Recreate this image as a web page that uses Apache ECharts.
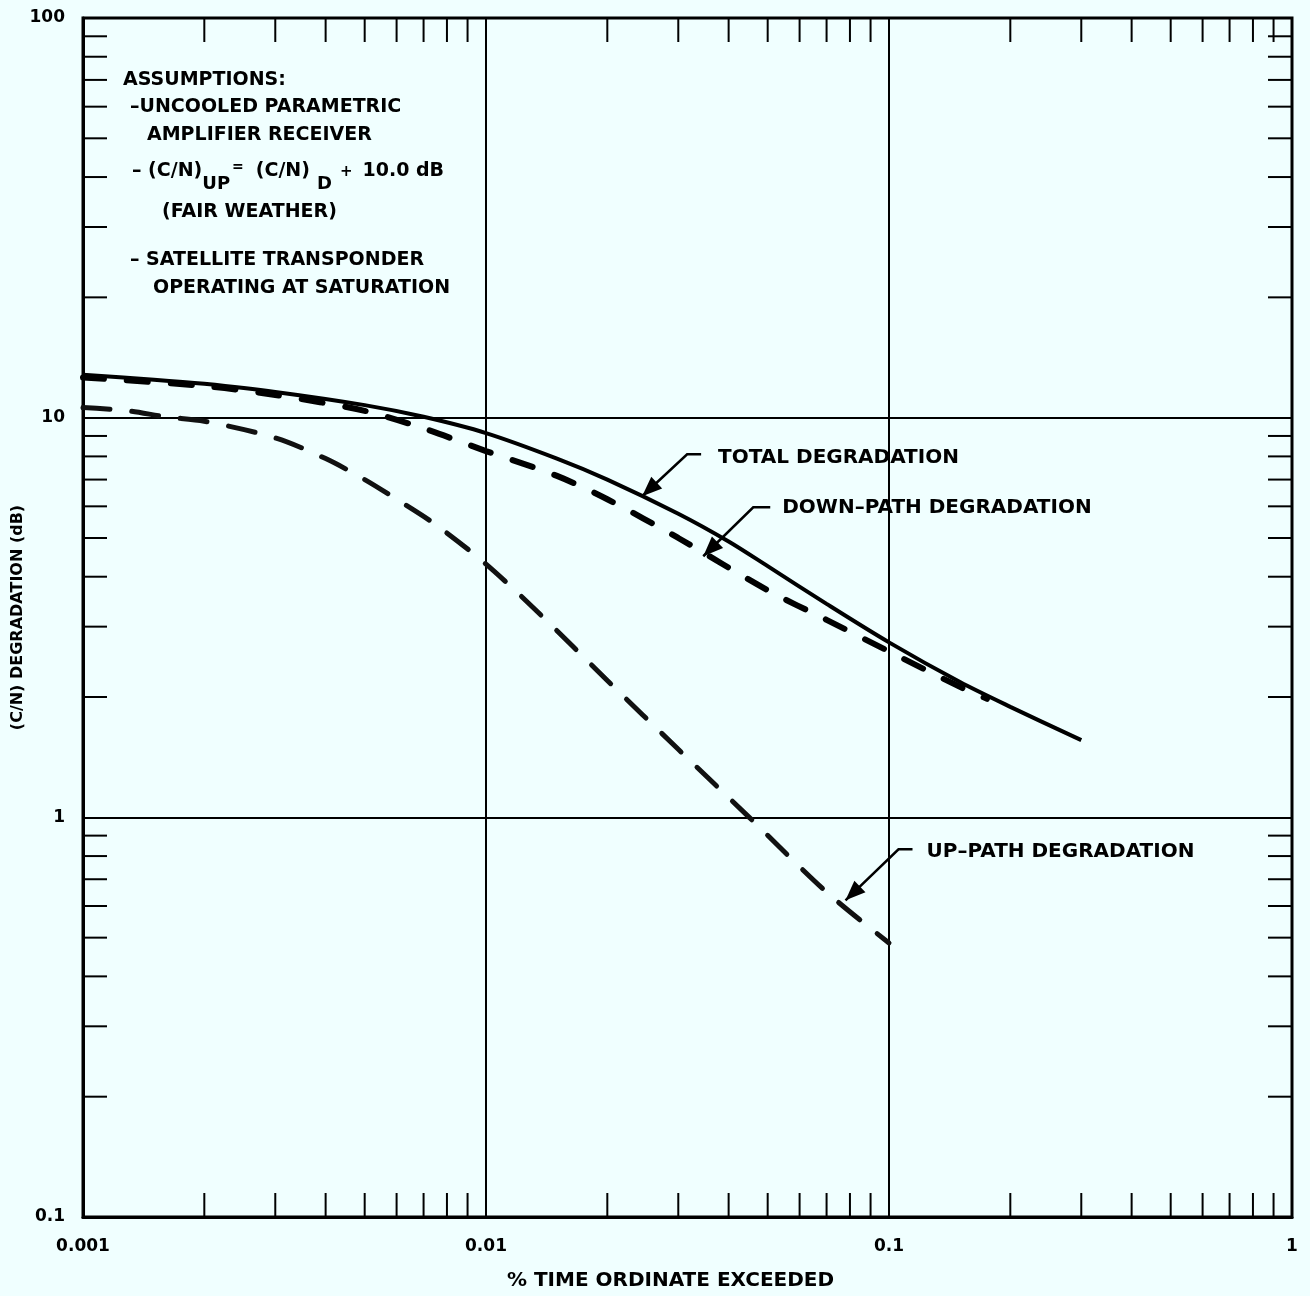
<!DOCTYPE html>
<html><head><meta charset="utf-8">
<script src="https://cdn.jsdelivr.net/npm/echarts@6/dist/echarts.min.js"></script>
<style>html,body{margin:0;padding:0;background:#F0FFFF;}#c{width:1310px;height:1296px;}</style>
</head><body><div id="c"></div>
<script>
// ---- data ----
const xTickLabels = ['0.001', '0.01', '0.1', '1'];
const yTickLabels = ['0.1', '1', '10', '100'];
const xDecades = [0.001, 0.01, 0.1];
const yDecades = [0.1, 1, 10];
const minorMultiples = [2, 3, 4, 5, 6, 7, 8, 9];

const totalX = [0.001, 0.0015, 0.002, 0.003, 0.005, 0.007, 0.01, 0.015, 0.02, 0.03, 0.04, 0.05, 0.07, 0.1, 0.15, 0.2, 0.3];
const totalY = [12.8, 12.45, 12.15, 11.6, 10.75, 10.05, 9.15, 7.9, 7.0, 5.75, 4.9, 4.25, 3.42, 2.74, 2.18, 1.89, 1.56];

const downX = [0.001, 0.002, 0.003, 0.005, 0.007, 0.01, 0.015, 0.02, 0.03, 0.05, 0.07, 0.1, 0.15, 0.175];
const downY = [12.6, 12.0, 11.4, 10.4, 9.4, 8.25, 7.15, 6.25, 5.0, 3.7, 3.12, 2.6, 2.12, 1.98];

const upX = [0.001, 0.0013, 0.0016, 0.002, 0.003, 0.004, 0.005, 0.006, 0.0075, 0.01, 0.0135, 0.02, 0.03, 0.045, 0.07, 0.1];
const upY = [10.6, 10.4, 10.05, 9.8, 8.9, 7.9, 7.0, 6.25, 5.4, 4.3, 3.25, 2.2, 1.48, 1.0, 0.65, 0.485];

const curveLabels = ['TOTAL DEGRADATION', 'DOWN\u2013PATH DEGRADATION', 'UP\u2013PATH DEGRADATION'];
const arrowTips = [[0.0244, 6.36], [0.0346, 4.5], [0.078, 0.62]];

const assumptionLines = ['ASSUMPTIONS:', '\u2013UNCOOLED PARAMETRIC', 'AMPLIFIER RECEIVER', '(FAIR WEATHER)', '\u2013 SATELLITE TRANSPONDER', 'OPERATING AT SATURATION'];
const equationParts = ['\u2013 (C/N)', 'UP', '=', '(C/N)', 'D', '+', '10.0 dB'];

const xTitle = '% TIME ORDINATE EXCEEDED';
const yTitle = '(C/N) DEGRADATION (dB)';

// ---- chart ----
const FONT = '"DejaVu Sans", sans-serif';
const zip = (xs, ys) => xs.map((x, i) => [x, ys[i]]);
const chart = echarts.init(document.getElementById('c'), null, {renderer: 'canvas'});

const option = {
  backgroundColor: '#F0FFFF',
  animation: false,
  grid: {left: 83, right: 18, top: 18, bottom: 79, show: true, borderColor: '#000', borderWidth: 3,
         backgroundColor: 'transparent', containLabel: false, outerBoundsMode: 'none'},
  xAxis: {
    type: 'log', logBase: 10, min: 0.001, max: 1,
    name: xTitle, nameLocation: 'middle', nameGap: 54, nameMoveOverlap: false,
    nameTextStyle: {fontFamily: FONT, fontWeight: 'bold', fontSize: 20, color: '#000', padding: [0, 34, 0, 0]},
    axisLine: {show: true, lineStyle: {color: '#000', width: 3}},
    axisTick: {show: false},
    splitLine: {show: true, lineStyle: {color: '#000', width: 2}},
    axisLabel: {
      fontFamily: FONT, fontWeight: 'bold', fontSize: 17, color: '#000', margin: 21,
      formatter: v => xTickLabels[Math.round(Math.log10(v)) + 3]
    }
  },
  yAxis: {
    type: 'log', logBase: 10, min: 0.1, max: 100,
    name: yTitle, nameLocation: 'middle', nameGap: 57, nameMoveOverlap: false,
    nameTextStyle: {fontFamily: FONT, fontWeight: 'bold', fontSize: 16, color: '#000'},
    axisLine: {show: true, lineStyle: {color: '#000', width: 3}},
    axisTick: {show: false},
    splitLine: {show: true, lineStyle: {color: '#000', width: 2}},
    axisLabel: {
      fontFamily: FONT, fontWeight: 'bold', fontSize: 17, color: '#000', margin: 18,
      formatter: v => yTickLabels[Math.round(Math.log10(v)) + 1]
    }
  },
  series: [
    {name: 'Total', type: 'line', data: zip(totalX, totalY), smooth: 0.3, showSymbol: false,
     lineStyle: {color: '#000', width: 4}},
    {name: 'Down', type: 'line', data: zip(downX, downY), smooth: 0.3, showSymbol: false,
     lineStyle: {color: '#000', width: 6, type: [21, 23], cap: 'round'}},
    {name: 'Up', type: 'line', data: zip(upX, upY), smooth: 0.3, showSymbol: false,
     lineStyle: {color: '#111', width: 5, type: [27, 22], cap: 'round'}}
  ]
};
chart.setOption(option);

// ---- overlay graphics from the chart's own scales ----
const px = (x, y) => chart.convertToPixel({gridIndex: 0}, [x, y]);
const [gl, gb] = px(0.001, 0.1);
const [gr, gt] = px(1, 100);
const TL = 24;
const g = [];
const tickStyle = {stroke: '#000', lineWidth: 2};
xDecades.forEach(d => minorMultiples.forEach(m => {
  const x = px(d * m, 1)[0];
  g.push({type: 'line', shape: {x1: x, y1: gb, x2: x, y2: gb - TL}, style: tickStyle, z: 50});
  g.push({type: 'line', shape: {x1: x, y1: gt, x2: x, y2: gt + TL}, style: tickStyle, z: 50});
}));
yDecades.forEach(d => minorMultiples.forEach(m => {
  const y = px(0.01, d * m)[1];
  g.push({type: 'line', shape: {x1: gl, y1: y, x2: gl + TL, y2: y}, style: tickStyle, z: 50});
  g.push({type: 'line', shape: {x1: gr, y1: y, x2: gr - TL, y2: y}, style: tickStyle, z: 50});
}));

// annotation leaders: offsets (px) from the arrow tip: elbow, end, text start
const leaders = [
  {elbow: [45, -42], end: [59, -42], text: [76, -38]},
  {elbow: [50, -49], end: [67, -49], text: [79, -48]},
  {elbow: [53, -51], end: [67, -51], text: [81, -49]}
];
arrowTips.forEach((t, i) => {
  const [tx, ty] = px(t[0], t[1]);
  const L = leaders[i];
  const ex = tx + L.elbow[0], ey = ty + L.elbow[1];
  g.push({type: 'polyline', shape: {points: [[tx, ty], [ex, ey], [tx + L.end[0], ty + L.end[1]]]},
          style: {stroke: '#000', lineWidth: 2.5, fill: null}, z: 60});
  const dx = tx - ex, dy = ty - ey, len = Math.hypot(dx, dy);
  const ux = dx / len, uy = dy / len;
  const hl = 20, hw = 8;
  const bx = tx - ux * hl, by = ty - uy * hl;
  g.push({type: 'polygon', shape: {points: [[tx, ty], [bx - uy * hw, by + ux * hw], [bx + uy * hw, by - ux * hw]]},
          style: {fill: '#000'}, z: 60});
  g.push({type: 'text', x: tx + L.text[0], y: ty + L.text[1], z: 60,
          style: {text: curveLabels[i], fontFamily: FONT, fontWeight: 'bold', fontSize: 20, fill: '#000',
                  textAlign: 'left', textVerticalAlign: 'middle', align: 'left', verticalAlign: 'middle'}});
});

// assumptions block
const aFont = {fontFamily: FONT, fontWeight: 'bold', fontSize: 19, fill: '#000', textAlign: 'left', textVerticalAlign: 'middle', align: 'left', verticalAlign: 'middle'};
const aPos = [[123, 80], [130, 107], [147, 135], [162, 212], [130, 260], [153, 288]];
assumptionLines.forEach((s, i) => {
  g.push({type: 'text', x: aPos[i][0], y: aPos[i][1], z: 60, style: Object.assign({text: s}, aFont)});
});
// equation line laid out with measured widths
const mctx = document.createElement('canvas').getContext('2d');
const eqStyle = [[19, 171, 0], [18, 184, 0], [14, 167, 2], [19, 171, 12], [18, 184, 7], [15, 172, 8], [19, 171, 10]];
let cx = 132;
equationParts.forEach((s, i) => {
  const [fs, y, gap] = eqStyle[i];
  cx += gap;
  g.push({type: 'text', x: cx, y: y, z: 60, style: Object.assign({}, aFont, {text: s, fontSize: fs})});
  mctx.font = 'bold ' + fs + 'px "DejaVu Sans"';
  cx += mctx.measureText(s).width;
});

chart.setOption({graphic: {elements: g}});
</script>
</body></html>
